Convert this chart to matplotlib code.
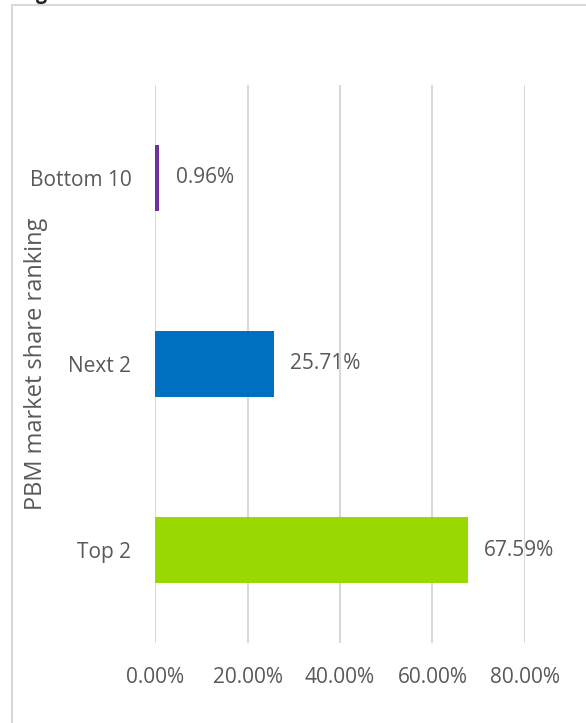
import matplotlib.pyplot as plt
from matplotlib.patches import Rectangle

categories = ["Top 2", "Next 2", "Bottom 10"]
shares = [67.59, 25.71, 0.96]
bar_colors = ["#99D800", "#0070C0", "#7030A0"]
xticks = [0, 20, 40, 60, 80]

plt.rcParams['font.family'] = ['Open Sans', 'DejaVu Sans']
grey = "#595959"

fig = plt.figure(figsize=(5.86, 7.23), dpi=100)
ax = fig.add_axes([155/586, 1 - 643/723, (525 - 155)/586, (643 - 85)/723])

# chart border (partly outside the picture)
fig.patches.append(Rectangle((12/586, -0.1), 1.2, 1 - 5/723 + 0.1,
                             transform=fig.transFigure, fill=False,
                             edgecolor="#D9D9D9", linewidth=1.5))
# title, mostly above the visible area
fig.text(36/586, 1 + 1/723, "g", fontsize=14, fontweight="bold",
         color="#222222", ha="left", va="baseline")

ypos = range(len(categories))
ax.barh(ypos, shares, height=0.355, color=bar_colors)
for y, v in zip(ypos, shares):
    ax.text(v + 3.5, y, f"{v:.2f}%", va="center", ha="left",
            fontsize=15, color=grey)

ax.set_xlim(0, 80)
ax.set_ylim(-0.5, 2.5)
ax.set_xticks(xticks)
ax.set_xticklabels([f"{t:.2f}%" for t in xticks])
ax.set_yticks(list(ypos))
ax.set_yticklabels(categories)
ax.tick_params(axis="both", length=0, labelsize=15, labelcolor=grey)
ax.tick_params(axis="x", pad=17)
ax.tick_params(axis="y", pad=17)
ax.set_ylabel("PBM market share ranking", fontsize=17, color=grey)
ax.yaxis.set_label_coords(-0.29, 0.5)

ax.grid(axis="x", color="#D9D9D9", linewidth=1.5)
ax.set_axisbelow(True)
for s in ax.spines.values():
    s.set_visible(False)

fig.savefig("out.png", dpi=100)
